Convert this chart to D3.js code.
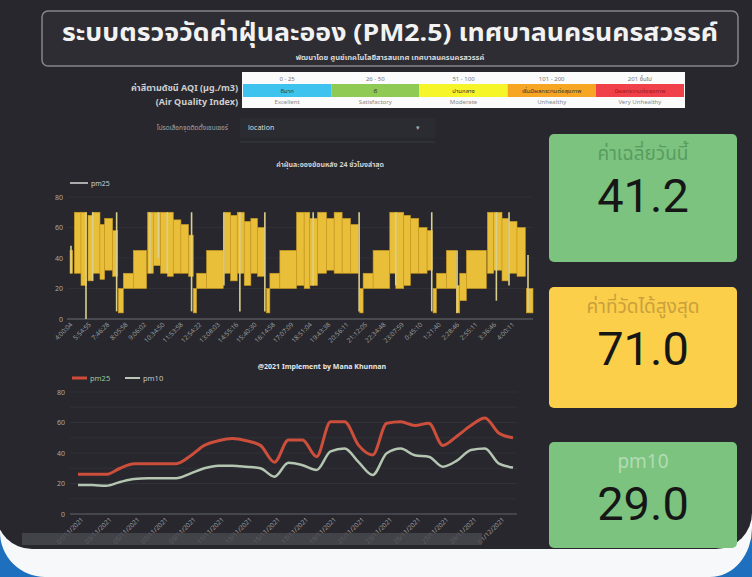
<!DOCTYPE html>
<html><head><meta charset="utf-8">
<script src="https://cdn.jsdelivr.net/npm/d3@7"></script>
<style>html,body{margin:0;padding:0;background:#fff;overflow:hidden}svg{display:block}</style>
</head><body>
<script>
// ---------- DATA ----------
const titleText = "ระบบตรวจวัดค่าฝุ่นละออง (PM2.5) เทศบาลนครนครสวรรค์";
const subtitleText = "พัฒนาโดย ศูนย์เทคโนโลยีสารสนเทศ เทศบาลนครนครสวรรค์";
const aqiRanges = ["0 - 25", "26 - 50", "51 - 100", "101 - 200", "201 ขึ้นไป"];
const aqiThai = ["ดีมาก", "ดี", "ปานกลาง", "เริ่มมีผลกระทบต่อสุขภาพ", "มีผลกระทบต่อสุขภาพ"];
const aqiEnglish = ["Excellent", "Satisfactory", "Moderate", "Unhealthy", "Very Unhealthy"];
const aqiColors = ["#3ec3ee", "#8fca54", "#f6f52a", "#f7a623", "#f0414b"];

// 24h pm25 readings, summarised as [tStart, tEnd, min, max] per time slot
const pm25Ranges = [
  [0,0.8,30,45],
  [1.3,3.3,30,70],[3.3,5,22,70],[5.4,6.8,25,68],[6.8,9,30,70],[9,10.4,26,62],[10.4,12.8,32,66],[12.8,14.3,28,58],
  [14.5,16,4,20],[16,19,20,30],[19,23,20,45],
  [23.3,25,30,70],[25,27.2,35,70],[27.2,29.2,30,70],[29.2,31,28,70],[31,33.3,30,65],[33.3,35.6,30,62],[35.6,37,28,55],
  [37,38,4,20],[38,41,20,30],[41,46,20,45],
  [46.3,48.2,30,70],[48.2,50.2,25,68],[50.2,52.3,30,70],[52.3,54.3,22,64],[54.3,56.3,30,66],[56.3,58.5,28,60],
  [59,60,4,20],[60,63,20,30],[63,68,20,45],
  [68,70.3,22,70],[70.3,72,20,70],[72,74.3,22,66],[74.3,77,30,70],[77,79.3,32,66],[79.3,81.7,30,70],[81.7,84.2,30,66],[84.2,86.6,30,62],
  [87,88,4,20],[88,91,20,30],[91,96,20,45],
  [96,97.8,30,70],[97.8,100.2,20,70],[100.2,102.2,22,68],[102.2,104.7,30,66],[104.7,107.2,30,60],[107.2,108.8,32,58],
  [109,110,4,20],[110,113,20,30],[113,116,20,45],[116,117,4,22],[117,119,12,30],[119,125,20,45],
  [125.3,127.2,30,70],[127.2,129.7,32,70],[129.7,131.7,25,66],[131.7,134.2,30,64],[134.2,136.7,28,60],
  [137,139,4,20]
];
// single sharp readings [t, min, max]
const pm25Spikes = [
  [0.3,30,48],[4.8,0,70],[6.8,25,70],[14,5,70],[24,30,70],[26.5,40,70],[29.2,30,70],[36.5,5,70],
  [46.2,22,70],[51,5,70],[58.5,5,70],[73,22,70],[86.8,5,70],[97.8,22,70],[108.6,5,70],
  [116.2,4,45],[128,12,70],[131.8,22,70],[137.5,5,42]
];
const hourLabels = ["4:00:04","5:54:55","7:46:28","8:05:58","9:06:02","10:34:50","11:53:58","12:54:22",
  "13:08:03","14:55:16","15:40:30","16:14:58","17:07:09","18:51:04","19:43:38","20:56:11","21:12:05",
  "22:34:48","23:07:59","0:45:10","1:21:40","2:28:46","2:55:11","3:36:46","4:00:11"];
const yTicks = [0,20,40,60,80];

const dayLabels = ["01/11/2021","03/11/2021","05/11/2021","07/11/2021","09/11/2021","11/11/2021","13/11/2021","15/11/2021",
  "17/11/2021","19/11/2021","21/11/2021","23/11/2021","25/11/2021","27/11/2021","29/11/2021","01/12/2021"];
const pm25Daily = [26,26,26,30,33,33,33,33,38,45,48,49.5,48,45,34,48.5,48.5,37.6,60.5,60.5,45,38.7,59.5,60.5,58,59.5,45,51,58,63,53,50];
const pm10Daily = [19,19,18.5,21,23,23.4,23.4,23.4,26.5,30,31.7,31.7,31,30,24.5,33.6,32,28.9,41,43,34,25.6,39.8,43,38.5,37.6,31,35,42,43,33,30.5];

const cardTitles = ["ค่าเฉลี่ยวันนี้", "ค่าที่วัดได้สูงสุด", "pm10"];
const cardValues = [41.2, 71.0, 29.0];

// ---------- DRAW ----------
const W = 752, H = 577;
const TH = "'Noto Sans Thai','Noto Sans','DejaVu Sans',sans-serif";
const svg = d3.select("body").append("svg").attr("width", W).attr("height", H);

// photo frame
svg.append("rect").attr("width", W).attr("height", H).attr("fill", "#f6f8fa");
svg.append("path").attr("d", "M0,532 A45,45 0 0 0 45,577 L0,577 Z").attr("fill", "#1e6fbe");
svg.append("path").attr("d", "M752,528 A42,49 0 0 1 710,577 L752,577 Z").attr("fill", "#1e6fbe");
svg.append("rect").attr("x", -4).attr("y", -40).attr("width", 756).attr("height", 589).attr("rx", 36).attr("fill", "#27272d");

// title box
svg.append("rect").attr("x", 42).attr("y", 11).attr("width", 696).attr("height", 55).attr("rx", 6)
  .attr("fill", "#2d2d33").attr("stroke", "#85858b").attr("stroke-width", 1.5);
svg.append("text").attr("x", 390).attr("y", 41).attr("text-anchor", "middle")
  .attr("font-family", TH).attr("font-weight", "bold").attr("font-size", 24).attr("fill", "#f2f2f2")
  .attr("textLength", 656).attr("lengthAdjust", "spacingAndGlyphs").text(titleText);
svg.append("text").attr("x", 390).attr("y", 60).attr("text-anchor", "middle")
  .attr("font-family", TH).attr("font-weight", "bold").attr("font-size", 7.5).attr("fill", "#d8d8d8").text(subtitleText);

// AQI legend
const lg = svg.append("g").attr("font-family", TH);
lg.append("text").attr("x", 238).attr("y", 91).attr("text-anchor", "end").attr("font-size", 9).attr("font-weight", "bold")
  .attr("fill", "#cfcfcf").text("ค่าสีตามดัชนี AQI (µg./m3)");
lg.append("text").attr("x", 238).attr("y", 105).attr("text-anchor", "end").attr("font-size", 9).attr("font-weight", "bold")
  .attr("fill", "#cfcfcf").text("(Air Quality Index)");
const cx = d3.scaleBand().domain(d3.range(aqiColors.length)).range([243, 684]);
lg.append("rect").attr("x", 242).attr("y", 72).attr("width", 443).attr("height", 36).attr("fill", "#fbfbfb");
aqiColors.forEach((c, i) => {
  lg.append("rect").attr("x", cx(i)).attr("y", 84).attr("width", cx.bandwidth()).attr("height", 13).attr("fill", c);
  lg.append("text").attr("x", cx(i) + cx.bandwidth() / 2).attr("y", 80.5).attr("text-anchor", "middle")
    .attr("font-size", 6).attr("fill", "#777").text(aqiRanges[i]);
  lg.append("text").attr("x", cx(i) + cx.bandwidth() / 2).attr("y", 92.5).attr("text-anchor", "middle")
    .attr("font-size", 6).attr("fill", i === 4 ? "#9a1a20" : "#333").text(aqiThai[i]);
  lg.append("text").attr("x", cx(i) + cx.bandwidth() / 2).attr("y", 104).attr("text-anchor", "middle")
    .attr("font-size", 6).attr("fill", "#888").text(aqiEnglish[i]);
});

// dropdown
svg.append("text").attr("x", 228).attr("y", 130).attr("text-anchor", "end").attr("font-family", TH)
  .attr("font-size", 6.5).attr("fill", "#a8a8a8").text("โปรดเลือกจุดติดตั้งเซนเซอร์");
svg.append("rect").attr("x", 240).attr("y", 118).attr("width", 195).attr("height", 20).attr("fill", "#2b2b32");
svg.append("text").attr("x", 248).attr("y", 130).attr("font-family", TH).attr("font-size", 7).attr("fill", "#dddddd").text("location");
svg.append("text").attr("x", 416).attr("y", 130).attr("font-size", 7).attr("fill", "#aaaaaa").text("▾");
svg.append("line").attr("x1", 240).attr("x2", 435).attr("y1", 142).attr("y2", 142).attr("stroke", "#3a3a42");

// ---------- top chart ----------
const gTop = svg.append("g").attr("font-family", TH);
const xT = d3.scaleLinear().domain([0, 139]).range([70, 533]);
const yT = d3.scaleLinear().domain([0, 80]).range([319, 197]);
const xLab = d3.scalePoint().domain(hourLabels).range([73, 515]);
gTop.append("text").attr("x", 330).attr("y", 167).attr("text-anchor", "middle").attr("font-size", 7).attr("font-weight", "bold")
  .attr("fill", "#cfcfcf").text("ค่าฝุ่นละอองย้อนหลัง 24 ชั่วโมงล่าสุด");
gTop.append("line").attr("x1", 70).attr("x2", 88).attr("y1", 183).attr("y2", 183).attr("stroke", "#d8d8d8").attr("stroke-width", 1.5);
gTop.append("text").attr("x", 91).attr("y", 186).attr("font-size", 7).attr("fill", "#cfcfcf").text("pm25");
yTicks.forEach(t => {
  gTop.append("line").attr("x1", 67).attr("x2", 533).attr("y1", yT(t)).attr("y2", yT(t))
    .attr("stroke", t === 0 ? "#56565d" : "#303037").attr("stroke-width", t === 0 ? 1.5 : 1);
  gTop.append("text").attr("x", 63).attr("y", yT(t) + 2.5).attr("text-anchor", "end").attr("font-size", 7)
    .attr("fill", "#a8a8a8").text(t);
});
gTop.selectAll("rect.r").data(pm25Ranges).join("rect")
  .attr("x", d => xT(d[0])).attr("width", d => Math.max(1, xT(d[1]) - xT(d[0])))
  .attr("y", d => yT(d[3])).attr("height", d => yT(d[2]) - yT(d[3]))
  .attr("fill", "#e9bf3a").attr("stroke", "#c99a20").attr("stroke-width", 0.6);
gTop.selectAll("line.s").data(pm25Spikes).join("line")
  .attr("x1", d => xT(d[0])).attr("x2", d => xT(d[0])).attr("y1", d => yT(d[1])).attr("y2", d => yT(d[2]))
  .attr("stroke", "#d9cf8e").attr("stroke-width", 1.6);
hourLabels.forEach(l => {
  gTop.append("text").attr("transform", `translate(${xLab(l)},${325}) rotate(-45)`).attr("text-anchor", "end")
    .attr("font-size", 6.5).attr("fill", "#9c9c9c").text(l);
});

// ---------- bottom chart ----------
const gBot = svg.append("g").attr("font-family", TH);
const xB = d3.scalePoint().domain(d3.range(pm25Daily.length)).range([78, 513]);
const yB = d3.scaleLinear().domain([0, 80]).range([514, 392]);
gBot.append("text").attr("x", 322).attr("y", 369).attr("text-anchor", "middle").attr("font-size", 7).attr("font-weight", "bold")
  .attr("fill", "#e8e8e8").text("@2021 Implement by Mana Khunnan");
gBot.append("line").attr("x1", 72).attr("x2", 87).attr("y1", 378).attr("y2", 378).attr("stroke", "#cf4c3a").attr("stroke-width", 3);
gBot.append("text").attr("x", 90).attr("y", 381).attr("font-size", 7.5).attr("fill", "#9cc79a").text("pm25");
gBot.append("line").attr("x1", 125).attr("x2", 140).attr("y1", 378).attr("y2", 378).attr("stroke", "#b9c7b6").attr("stroke-width", 2);
gBot.append("text").attr("x", 143).attr("y", 381).attr("font-size", 7.5).attr("fill", "#c6c6c6").text("pm10");
d3.range(0, 81, 10).forEach(t => {
  gBot.append("line").attr("x1", 70).attr("x2", 517).attr("y1", yB(t)).attr("y2", yB(t))
    .attr("stroke", t === 0 ? "#505057" : "#313138").attr("stroke-width", t === 0 ? 1.5 : 1);
});
yTicks.forEach(t => {
  gBot.append("text").attr("x", 65).attr("y", yB(t) + 2.5).attr("text-anchor", "end").attr("font-size", 7)
    .attr("fill", "#a8a8a8").text(t);
});
const lineB = d3.line().x((d, i) => xB(i)).y(d => yB(d)).curve(d3.curveMonotoneX);
gBot.append("path").datum(pm10Daily).attr("d", lineB).attr("fill", "none").attr("stroke", "#b4c6b1").attr("stroke-width", 2.5);
gBot.append("path").datum(pm25Daily).attr("d", lineB).attr("fill", "none").attr("stroke", "#cc4e3b").attr("stroke-width", 3);
dayLabels.forEach((l, k) => {
  gBot.append("text").attr("transform", `translate(${xB(k * 2) + 6},${520}) rotate(-45)`).attr("text-anchor", "end")
    .attr("font-size", 6.5).attr("fill", "#a0a0a0").text(l);
});
svg.append("rect").attr("x", 22).attr("y", 533).attr("width", 460).attr("height", 12).attr("fill", "#4a4a50").attr("opacity", 0.8);

// ---------- cards ----------
const cards = [
  {y: 134, h: 128, fill: "#7cc37f", tc: "#5a9c60"},
  {y: 287, h: 121, fill: "#fbcf4a", tc: "#c9a03c"},
  {y: 442, h: 106, fill: "#7cc37f", tc: "#b2dcb4"}
];
cards.forEach((c, i) => {
  svg.append("rect").attr("x", 549).attr("y", c.y).attr("width", 188).attr("height", c.h).attr("rx", 5).attr("fill", c.fill);
  svg.append("text").attr("x", 643).attr("y", c.y + 26).attr("text-anchor", "middle").attr("font-family", TH)
    .attr("font-size", 19).attr("fill", c.tc).text(cardTitles[i]);
  svg.append("text").attr("x", 643).attr("y", c.y + 78).attr("text-anchor", "middle").attr("font-family", "Roboto, sans-serif")
    .attr("font-size", 47).attr("fill", "#161616").text(d3.format(".1f")(cardValues[i]));
});
</script>
</body></html>
